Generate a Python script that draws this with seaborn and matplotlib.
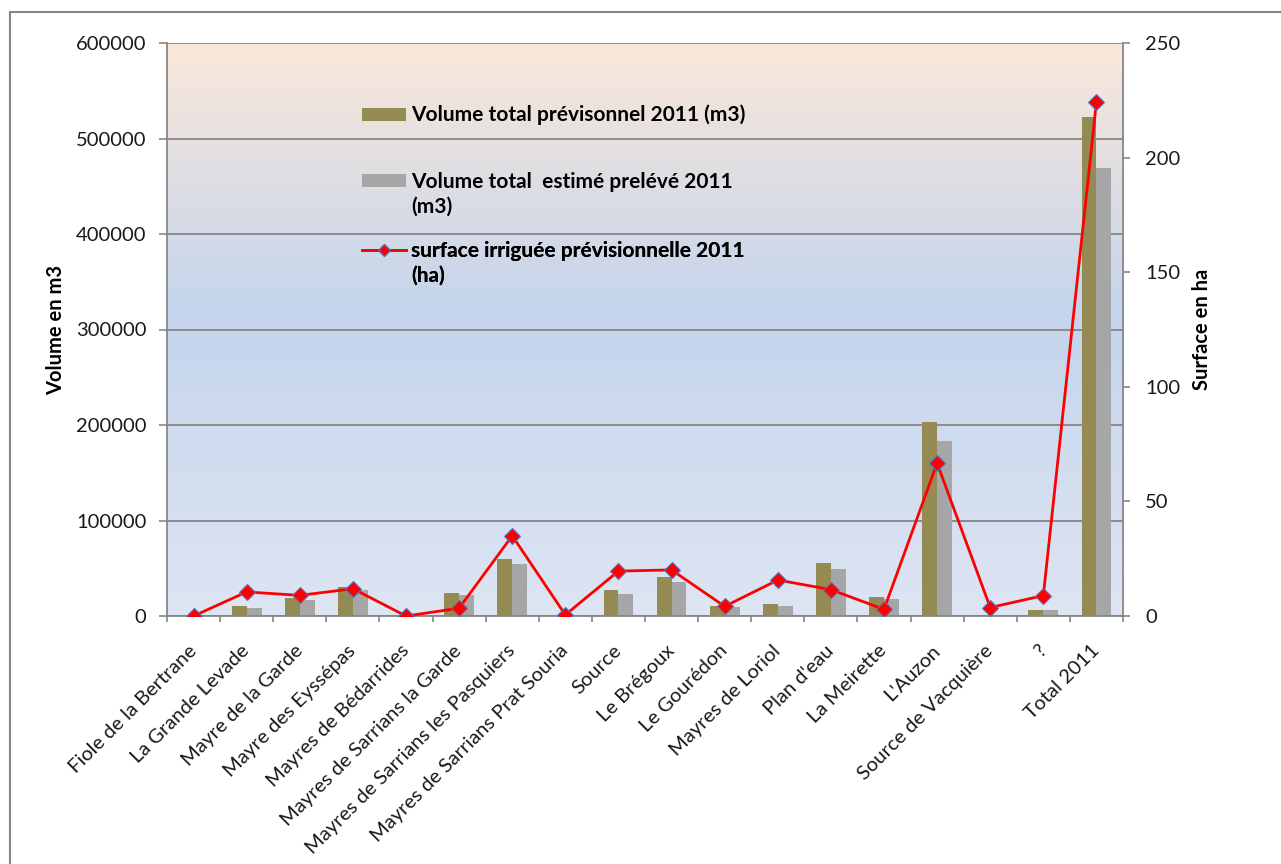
import numpy as np
import pandas as pd
import seaborn as sns
import matplotlib.pyplot as plt
from matplotlib.colors import LinearSegmentedColormap
from matplotlib.patches import Rectangle, Patch
from matplotlib.lines import Line2D
from matplotlib.ticker import StrMethodFormatter

# -------- DATA --------
sites = [
    "Fiole de la Bertrane", "La Grande Levade", "Mayre de la Garde",
    "Mayre des Eyssépas", "Mayres de Bédarrides", "Mayres de Sarrians la Garde",
    "Mayres de Sarrians les Pasquiers", "Mayres de Sarrians Prat Souria",
    "Source", "Le Brégoux", "Le Gourédon", "Mayres de Loriol", "Plan d'eau",
    "La Meirette", "L'Auzon", "Source de Vacquière", "?", "Total 2011",
]
vol_prev = [0, 10000, 18800, 30400, 0, 24400, 59700, 0, 26900, 40500,
            10800, 12200, 55500, 19900, 203400, 0, 5900, 522800]
vol_estime = [0, 8500, 16800, 26900, 0, 22000, 54100, 0, 23400, 35900,
              9400, 10800, 49500, 17800, 182800, 0, 5900, 469500]
surface = [0, 10.5, 9.0, 11.9, 0, 3.4, 35.0, 0.5, 19.6, 20.1,
           4.2, 15.7, 11.5, 2.9, 66.7, 3.7, 8.9, 224.3]

lab_prev = ["Volume total prévisonnel 2011 (m3)"]
lab_est = ["Volume total  estimé prelévé 2011", "(m3)"]
lab_surf = ["surface irriguée prévisionnelle 2011", "(ha)"]

olive = "#948A54"
grey = "#A6A6A6"
axis_grey = "#868686"

df = pd.DataFrame({
    "site": sites * 2,
    "volume": vol_prev + vol_estime,
    "serie": ["prev"] * len(sites) + ["estime"] * len(sites),
})

# -------- PLOT --------
plt.rcParams["font.family"] = ["Lato", "DejaVu Sans"]

fig = plt.figure(figsize=(12.81, 8.64), dpi=100)
ax = fig.add_axes([167 / 1281, 1 - 616 / 864, 956 / 1281, 573 / 864])

# gradient background
bg = LinearSegmentedColormap.from_list(
    "bg", [(0, "#FAE8DA"), (0.47, "#C4D4EC"), (1, "#DEE5F3")])
grad = np.linspace(0, 1, 256).reshape(-1, 1)
ax.imshow(grad, cmap=bg, extent=[0, 1, 0, 1], transform=ax.transAxes,
          aspect="auto", zorder=0)

sns.barplot(data=df, x="site", y="volume", hue="serie",
            palette=[olive, grey], width=0.56, gap=0, saturation=1,
            linewidth=0, legend=False, ax=ax, zorder=2)

ax2 = ax.twinx()
sns.lineplot(x=np.arange(len(sites)), y=surface, ax=ax2, color="red",
             linewidth=2, marker="D", markersize=8.5,
             markeredgecolor="#5B6FBF", markeredgewidth=0.8, zorder=5)

ax.set_xlim(-0.5, len(sites) - 0.5)
ax.set_ylim(0, 600000)
ax2.set_ylim(0, 250)
ax.set_yticks(np.arange(0, 600001, 100000))
ax2.set_yticks(np.arange(0, 251, 50))
ax.yaxis.set_major_formatter(StrMethodFormatter("{x:.0f}"))

ax.set_axisbelow(True)
ax.yaxis.grid(True, color=axis_grey, linewidth=1.3, zorder=1)
ax.xaxis.grid(False)

# x ticks: labels at centres, tick marks between categories
ax.set_xticks(np.arange(len(sites)))
ax.set_xticklabels(sites, rotation=45, ha="right", va="center",
                   rotation_mode="anchor", fontsize=14.5, color="#1a1a1a")
ax.set_xticks(np.arange(-0.5, len(sites), 1), minor=True)
ax.tick_params(axis="x", which="major", length=0, pad=23)
ax.tick_params(axis="x", which="minor", length=4, color=axis_grey, width=1.2)
ax.tick_params(axis="y", length=5.8, color=axis_grey, width=1.2, pad=9,
               labelsize=14.5, labelcolor="#1a1a1a")
ax2.tick_params(axis="y", length=5, color=axis_grey, width=1.2, pad=11,
                labelsize=14.5, labelcolor="#1a1a1a")

ax.set_xlabel("")
ax.set_ylabel("Volume en m3", fontsize=14.5, fontweight="bold", labelpad=7)
ax2.set_ylabel("Surface en ha", fontsize=14.5, fontweight="bold", labelpad=8)

for s in ["top", "right"]:
    ax.spines[s].set_visible(False)
for s in ["left", "bottom"]:
    ax.spines[s].set_color(axis_grey)
    ax.spines[s].set_linewidth(1.3)
for s in ["top", "left", "bottom"]:
    ax2.spines[s].set_visible(False)
ax2.spines["right"].set_color(axis_grey)
ax2.spines["right"].set_linewidth(1.3)

# legend: one block per series, handle on the first text line
blank = Line2D([], [], color="none")
entries = [
    ([Patch(facecolor=olive, edgecolor="none")], lab_prev, 0.892),
    ([Patch(facecolor=grey, edgecolor="none"), blank], lab_est, 0.775),
    ([Line2D([], [], color="red", linewidth=2, marker="D", markersize=6,
             markeredgecolor="#5B6FBF", markeredgewidth=0.8), blank],
     lab_surf, 0.654),
]
for hs, ls, ytop in entries:
    leg = ax2.legend(hs, ls, loc="upper left", bbox_to_anchor=(0.204, ytop),
                     frameon=False, borderpad=0, borderaxespad=0,
                     handlelength=2.1, handleheight=0.6, handletextpad=0.25,
                     labelspacing=0.22, prop={"weight": "bold", "size": 15})
    ax2.add_artist(leg)

# outer chart frame
fig.add_artist(Rectangle((10 / 1281, -0.1), 1.2, 1.1 - 12 / 864,
                         transform=fig.transFigure, fill=False,
                         edgecolor=axis_grey, linewidth=1.5))

plt.savefig("out.png", dpi=100)
